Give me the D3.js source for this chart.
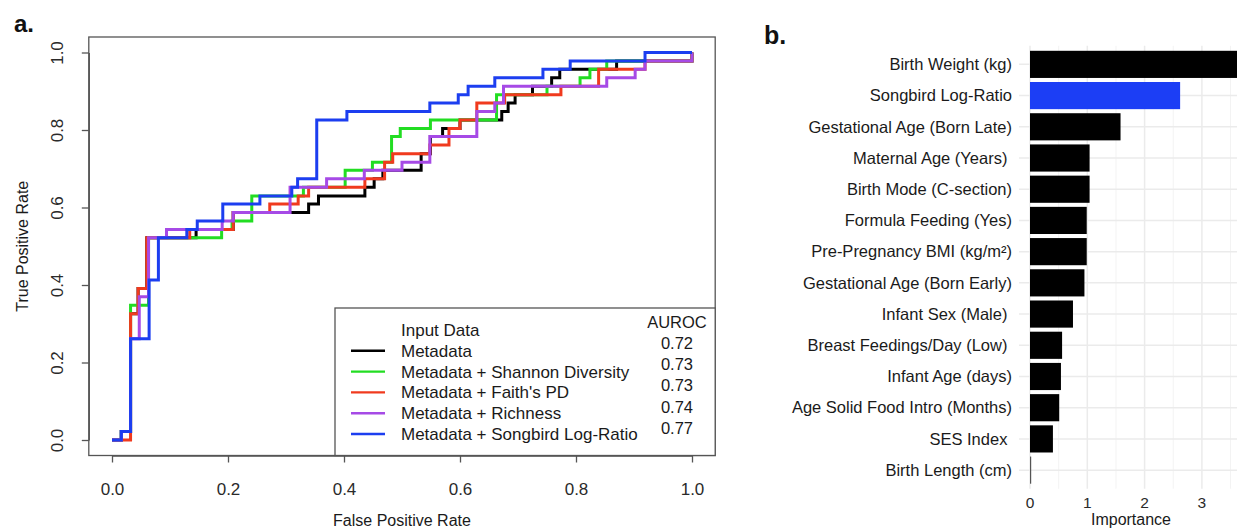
<!DOCTYPE html>
<html>
<head>
<meta charset="utf-8">
<script src="https://cdn.jsdelivr.net/npm/d3@7"></script>
<style>
body { margin: 0; background: #fff; }
svg { display: block; font-family: "Liberation Sans", Arial, Helvetica, sans-serif; }
.lbl { white-space: pre; }
</style>
</head>
<body>
<svg id="chart" width="1237" height="529"></svg>
<script>
// ---- panel a: ROC curves (fpr, tpr) corner points ----
const seriesNames = ["Metadata", "Metadata + Shannon Diversity", "Metadata + Faith's PD", "Metadata + Richness", "Metadata + Songbird Log-Ratio"];
const aurocValues = ["0.72", "0.73", "0.73", "0.74", "0.77"];

const rocMetadata = [[0,0],[0.016,0.022],[0.032,0.326],[0.045,0.391],[0.060,0.522],[0.145,0.543],[0.209,0.587],[0.339,0.609],[0.356,0.630],[0.436,0.652],[0.452,0.674],[0.467,0.696],[0.533,0.739],[0.549,0.783],[0.57,0.804],[0.60,0.826],[0.672,0.848],[0.683,0.870],[0.695,0.891],[0.725,0.913],[0.758,0.935],[0.772,0.957],[0.87,0.978],[1,1]];
const rocShannon = [[0,0],[0.016,0.022],[0.032,0.348],[0.063,0.522],[0.189,0.543],[0.207,0.565],[0.241,0.630],[0.33,0.652],[0.402,0.696],[0.449,0.717],[0.482,0.783],[0.497,0.804],[0.549,0.826],[0.663,0.891],[0.75,0.913],[0.807,0.935],[0.824,0.957],[0.853,0.978],[1,1]];
const rocFaith = [[0,0],[0.032,0.326],[0.045,0.391],[0.060,0.522],[0.134,0.543],[0.209,0.587],[0.272,0.609],[0.321,0.630],[0.339,0.652],[0.436,0.674],[0.47,0.717],[0.484,0.739],[0.548,0.761],[0.581,0.804],[0.60,0.826],[0.629,0.870],[0.677,0.891],[0.774,0.913],[0.839,0.957],[0.919,0.978],[1,1]];
const rocRichness = [[0,0],[0.016,0.022],[0.032,0.261],[0.047,0.370],[0.063,0.522],[0.094,0.543],[0.19,0.565],[0.209,0.587],[0.307,0.652],[0.37,0.674],[0.435,0.696],[0.50,0.717],[0.548,0.783],[0.629,0.848],[0.66,0.870],[0.675,0.913],[0.853,0.935],[0.902,0.957],[0.919,0.978],[1,1]];
const rocSongbird = [[0,0],[0.016,0.022],[0.032,0.261],[0.064,0.413],[0.080,0.522],[0.129,0.543],[0.147,0.565],[0.191,0.609],[0.255,0.630],[0.31,0.652],[0.32,0.674],[0.353,0.826],[0.405,0.848],[0.548,0.870],[0.597,0.891],[0.614,0.913],[0.66,0.935],[0.743,0.957],[0.79,0.978],[0.919,1.0],[1,1]];

const rateTicks = [0, 0.2, 0.4, 0.6, 0.8, 1.0];

// ---- panel b: feature importance ----
const featureNames = ["Birth Weight (kg)", "Songbird Log-Ratio", "Gestational Age (Born Late)", "Maternal Age (Years) ", "Birth Mode (C-section)", "Formula Feeding (Yes)", "Pre-Pregnancy BMI (kg/m\u00b2)", "Gestational Age (Born Early)", "Infant Sex (Male) ", "Breast Feedings/Day (Low) ", "Infant Age (days)", "Age Solid Food Intro (Months)", "SES Index ", "Birth Length (cm)"];
const featureImportance = [3.84, 2.62, 1.58, 1.04, 1.04, 0.99, 0.99, 0.95, 0.75, 0.56, 0.54, 0.51, 0.40, 0.015];
const importanceTicks = [0, 1, 2, 3];

const lineColors = ["#000000", "#22dd22", "#f03a1e", "#a64ae6", "#1c3ef0"];
const textCol = "#2a2a2a";
const boxCol = "#555";

const svg = d3.select("#chart");
svg.append("rect").attr("width", 1237).attr("height", 529).attr("fill", "#fff");

// ================= panel a =================
const x = d3.scaleLinear().domain([0, 1]).range([112, 692]);
const y = d3.scaleLinear().domain([0, 1]).range([440, 52.5]);
const x0 = x(-0.04), x1 = x(1.04), y0 = y(-0.04), y1 = y(1.04);

const pa = svg.append("g");

pa.append("text").attr("x", 14).attr("y", 32)
  .attr("font-size", 24).attr("font-weight", "bold").attr("fill", "#111").text("a.");

let xAxis = pa.append("g").attr("transform", `translate(0,${y0})`)
  .call(d3.axisBottom(x).tickValues(rateTicks).tickFormat(d3.format(".1f")).tickSize(7).tickPadding(20).tickSizeOuter(0));
xAxis.selectAll("text").attr("font-size", 17).attr("fill", textCol).attr("font-family", null);

let yAxis = pa.append("g").attr("transform", `translate(${x0},0)`)
  .call(d3.axisLeft(y).tickValues(rateTicks).tickFormat(d3.format(".1f")).tickSize(7).tickSizeOuter(0));
yAxis.selectAll("text")
  .attr("transform", "rotate(-90)").attr("x", 0).attr("y", -25.5).attr("dy", 0)
  .attr("text-anchor", "middle").attr("font-size", 17).attr("fill", textCol).attr("font-family", null);

pa.selectAll(".domain, .tick line").attr("stroke", boxCol).attr("stroke-width", 1.3);

pa.append("rect").attr("x", x0).attr("y", y1).attr("width", x1 - x0).attr("height", y0 - y1)
  .attr("fill", "none").attr("stroke", boxCol).attr("stroke-width", 1.3);

pa.append("text").attr("x", (x(0) + x(1)) / 2).attr("y", 526).attr("text-anchor", "middle")
  .attr("font-size", 16).attr("fill", "#1a1a1a").text("False Positive Rate");
pa.append("text").attr("transform", `translate(28,${(y(0) + y(1)) / 2}) rotate(-90)`).attr("text-anchor", "middle")
  .attr("font-size", 16).attr("fill", "#1a1a1a").text("True Positive Rate");

const rocLine = d3.line().x(d => x(d[0])).y(d => y(d[1])).curve(d3.curveStepAfter);
const curves = [rocMetadata, rocShannon, rocFaith, rocRichness, rocSongbird];
pa.append("g").selectAll("path").data(curves).join("path")
  .attr("d", rocLine).attr("fill", "none")
  .attr("stroke", (d, i) => lineColors[i]).attr("stroke-width", 3);

// legend
const lg = pa.append("g");
lg.append("rect").attr("x", 335).attr("y", 308).attr("width", x1 - 335).attr("height", y0 - 308)
  .attr("fill", "#fff").attr("stroke", boxCol).attr("stroke-width", 1.3);
const rowY = i => 330 + i * 20.8;
lg.append("text").attr("x", 401).attr("y", rowY(0)).attr("dy", "0.35em")
  .attr("font-size", 17).attr("fill", "#1a1a1a").text("Input Data");
const rows = lg.selectAll("g.row").data(seriesNames).join("g").attr("class", "row")
  .attr("transform", (d, i) => `translate(0,${rowY(i + 1)})`);
rows.append("line").attr("x1", 351).attr("x2", 385)
  .attr("stroke", (d, i) => lineColors[i]).attr("stroke-width", 2.4);
rows.append("text").attr("x", 401).attr("dy", "0.35em").attr("font-size", 17).attr("fill", "#1a1a1a").text(d => d);
lg.append("text").attr("x", 677).attr("y", 322).attr("dy", "0.35em").attr("text-anchor", "middle")
  .attr("font-size", 16.5).attr("fill", "#1a1a1a").text("AUROC");
lg.selectAll("text.auc").data(aurocValues).join("text").attr("class", "auc")
  .attr("x", 677).attr("y", (d, i) => 343 + i * 21.3).attr("dy", "0.35em").attr("text-anchor", "middle")
  .attr("font-size", 16.5).attr("fill", "#1a1a1a").text(d => d);

// ================= panel b =================
const pb = svg.append("g");
pb.append("text").attr("x", 764).attr("y", 44)
  .attr("font-size", 25).attr("font-weight", "bold").attr("fill", "#111").text("b.");

const xb = d3.scaleLinear().domain([0, 4]).range([1030, 1030 + 4 * 57.3]);
const yb = d3.scaleBand().domain(featureNames).range([45.8, 488.7]).paddingInner(0.13).paddingOuter(0.16);
const panelL = 1019, panelR = 1262, panelT = 45.8, panelB = 488.7;

const minorTicks = [0.5, 1.5, 2.5, 3.5];
pb.append("g").selectAll("line").data(minorTicks).join("line")
  .attr("x1", d => xb(d)).attr("x2", d => xb(d)).attr("y1", panelT).attr("y2", panelB)
  .attr("stroke", "#f2f2f2").attr("stroke-width", 0.9);
pb.append("g").selectAll("line").data(importanceTicks).join("line")
  .attr("x1", d => xb(d)).attr("x2", d => xb(d)).attr("y1", panelT).attr("y2", panelB)
  .attr("stroke", "#ebebeb").attr("stroke-width", 1.5);
pb.append("g").selectAll("line").data(featureNames).join("line")
  .attr("x1", panelL).attr("x2", panelR)
  .attr("y1", d => yb(d) + yb.bandwidth() / 2).attr("y2", d => yb(d) + yb.bandwidth() / 2)
  .attr("stroke", "#ebebeb").attr("stroke-width", 1.5);

pb.append("g").selectAll("rect").data(featureNames).join("rect")
  .attr("x", xb(0)).attr("y", d => yb(d))
  .attr("width", (d, i) => Math.max(1.2, xb(featureImportance[i]) - xb(0)))
  .attr("height", yb.bandwidth())
  .attr("fill", (d, i) => d === "Songbird Log-Ratio" ? "#1c3ef5" : (i === featureNames.length - 1 ? "#555" : "#000"));

pb.append("g").selectAll("text").data(featureNames).join("text")
  .attr("class", "lbl")
  .attr("x", 1012).attr("y", d => yb(d) + yb.bandwidth() / 2).attr("dy", "0.35em")
  .attr("text-anchor", "end").attr("font-size", 16.5).attr("fill", "#1a1a1a").text(d => d);

pb.append("g").selectAll("text").data(importanceTicks).join("text")
  .attr("x", d => xb(d)).attr("y", 508).attr("text-anchor", "middle")
  .attr("font-size", 15.5).attr("fill", textCol).text(d => d);

pb.append("text").attr("x", 1131).attr("y", 525).attr("text-anchor", "middle")
  .attr("font-size", 16).attr("fill", "#1a1a1a").text("Importance");
</script>
</body>
</html>
